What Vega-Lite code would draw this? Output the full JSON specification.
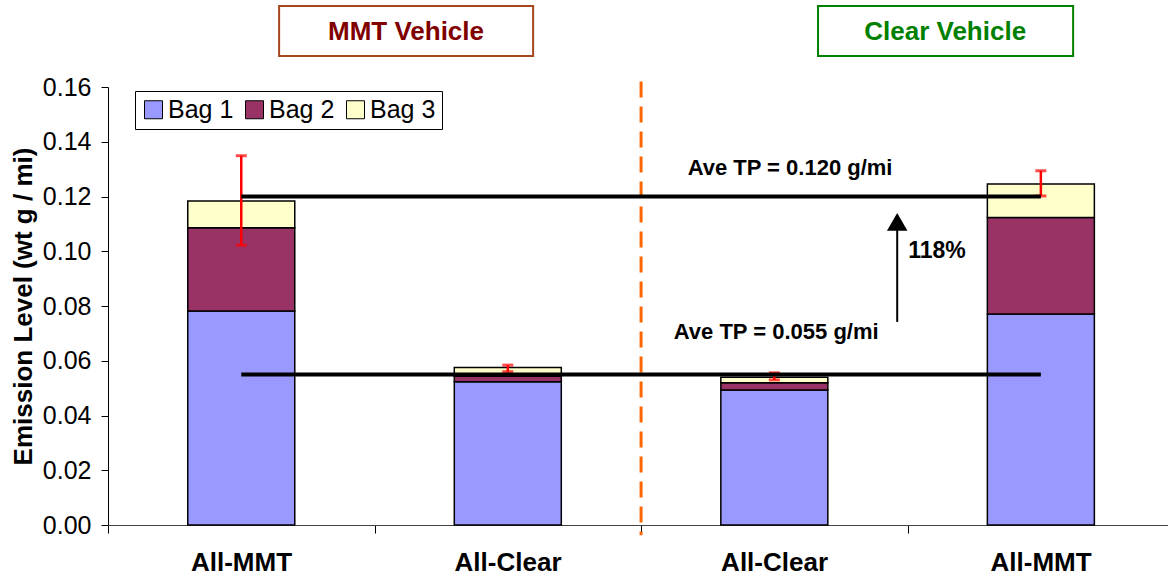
{
  "$schema": "https://vega.github.io/schema/vega-lite/v6.json",
  "width": 1060,
  "height": 438,
  "autosize": {"type": "none"},
  "padding": {"left": 108, "top": 87, "right": 0, "bottom": 52},
  "config": {"font": "Liberation Sans", "view": {"stroke": null}, "axis": {"grid": false}},
  "datasets": {
    "bars": [
      {"x": 0.5, "bag": "Bag 1", "y": 0, "y2": 0.0782},
      {"x": 0.5, "bag": "Bag 2", "y": 0.0782, "y2": 0.1086},
      {"x": 0.5, "bag": "Bag 3", "y": 0.1086, "y2": 0.1184},
      {"x": 1.5, "bag": "Bag 1", "y": 0, "y2": 0.0523},
      {"x": 1.5, "bag": "Bag 2", "y": 0.0523, "y2": 0.0543},
      {"x": 1.5, "bag": "Bag 3", "y": 0.0543, "y2": 0.0575},
      {"x": 2.5, "bag": "Bag 1", "y": 0, "y2": 0.0493},
      {"x": 2.5, "bag": "Bag 2", "y": 0.0493, "y2": 0.0520},
      {"x": 2.5, "bag": "Bag 3", "y": 0.0520, "y2": 0.0540},
      {"x": 3.5, "bag": "Bag 1", "y": 0, "y2": 0.0771},
      {"x": 3.5, "bag": "Bag 2", "y": 0.0771, "y2": 0.1123},
      {"x": 3.5, "bag": "Bag 3", "y": 0.1123, "y2": 0.1246}
    ],
    "errs": [
      {"x": 0.5, "y": 0.1022, "y2": 0.1349},
      {"x": 1.5, "y": 0.0560, "y2": 0.0584},
      {"x": 2.5, "y": 0.0530, "y2": 0.0556},
      {"x": 3.5, "y": 0.1202, "y2": 0.1294}
    ],
    "avg": [
      {"x": 0.5, "x2": 3.5, "y": 0.120},
      {"x": 0.5, "x2": 3.5, "y": 0.055}
    ],
    "divider": [{"x": 2, "y": 0.162, "y2": -0.0037}],
    "shaft": [{"x": 2.961, "y": 0.0742, "y2": 0.1085}],
    "head": [{"x": 2.961, "y": 0.1107}],
    "notes": [
      {"x": 2.559, "y": 0.1304, "text": "Ave TP = 0.120 g/mi"},
      {"x": 2.507, "y": 0.0705, "text": "Ave TP = 0.055 g/mi"}
    ],
    "pct": [{"x": 3.002, "y": 0.1001, "text": "118%"}],
    "mmtBox": [{"x": 0.642, "x2": 1.595, "y": 0.1713, "y2": 0.1896}],
    "clearBox": [{"x": 2.664, "x2": 3.621, "y": 0.1713, "y2": 0.1896}],
    "mmtText": [{"x": 1.118, "y": 0.1801, "text": "MMT Vehicle"}],
    "clearText": [{"x": 3.141, "y": 0.1801, "text": "Clear Vehicle"}]
  },
  "layer": [
    {
      "data": {"name": "bars"},
      "mark": {"type": "bar", "width": 107, "stroke": "black", "strokeWidth": 1.5},
      "encoding": {
        "x": {
          "field": "x", "type": "quantitative",
          "scale": {"domain": [0, 3.977], "nice": false, "zero": false, "padding": 0},
          "axis": {
            "title": null, "values": [0, 1, 2, 3],
            "labelExpr": "datum.value == 0 ? 'All-MMT' : datum.value == 1 ? 'All-Clear' : datum.value == 2 ? 'All-Clear' : 'All-MMT'",
            "labelOffset": 133, "labelFontSize": 26, "labelFontWeight": "bold", "labelColor": "black",
            "labelPadding": 16, "tickSize": 8, "tickColor": "black", "domainColor": "#444",
            "labelOverlap": false, "labelFlush": false, "labelBound": false
          }
        },
        "y": {
          "field": "y", "type": "quantitative",
          "scale": {"domain": [0, 0.16], "nice": false, "padding": 0},
          "axis": {
            "title": "Emission Level (wt g / mi)",
            "values": [0, 0.02, 0.04, 0.06, 0.08, 0.1, 0.12, 0.14, 0.16],
            "format": ".2f", "labelFontSize": 25, "labelColor": "black",
            "tickSize": 7, "tickColor": "black", "domainColor": "black", "labelPadding": 10,
            "titleFontSize": 26, "titleFontWeight": "bold", "titleColor": "black", "titlePadding": 6
          }
        },
        "y2": {"field": "y2"},
        "color": {
          "field": "bag", "type": "nominal",
          "scale": {"domain": ["Bag 1", "Bag 2", "Bag 3"], "range": ["#9999FF", "#993366", "#FFFFCC"]},
          "legend": {
            "title": null, "orient": "none", "legendX": 27, "legendY": 4, "direction": "horizontal",
            "fillColor": "white", "strokeColor": "black", "padding": 6,
            "symbolType": "square", "symbolSize": 324, "symbolStrokeColor": "black", "symbolStrokeWidth": 1,
            "symbolOpacity": 1, "labelFontSize": 25, "labelColor": "black", "columnPadding": 8, "labelOffset": 2
          }
        }
      }
    },
    {
      "data": {"name": "errs"},
      "mark": {"type": "rule", "color": "red", "strokeWidth": 2.5},
      "encoding": {"x": {"field": "x", "type": "quantitative"}, "y": {"field": "y", "type": "quantitative"}, "y2": {"field": "y2"}}
    },
    {
      "data": {"name": "errs"},
      "mark": {"type": "tick", "orient": "horizontal", "color": "red", "size": 11, "thickness": 3},
      "encoding": {"x": {"field": "x", "type": "quantitative"}, "y": {"field": "y", "type": "quantitative"}}
    },
    {
      "data": {"name": "errs"},
      "mark": {"type": "tick", "orient": "horizontal", "color": "red", "size": 11, "thickness": 3},
      "encoding": {"x": {"field": "x", "type": "quantitative"}, "y": {"field": "y2", "type": "quantitative"}}
    },
    {
      "data": {"name": "divider"},
      "mark": {"type": "rule", "color": "#FF6600", "strokeWidth": 3, "strokeDash": [16, 9]},
      "encoding": {"x": {"field": "x", "type": "quantitative"}, "y": {"field": "y", "type": "quantitative"}, "y2": {"field": "y2"}}
    },
    {
      "data": {"name": "avg"},
      "mark": {"type": "rule", "color": "black", "strokeWidth": 4},
      "encoding": {"x": {"field": "x", "type": "quantitative"}, "x2": {"field": "x2"}, "y": {"field": "y", "type": "quantitative"}}
    },
    {
      "data": {"name": "shaft"},
      "mark": {"type": "rule", "color": "black", "strokeWidth": 2},
      "encoding": {"x": {"field": "x", "type": "quantitative"}, "y": {"field": "y", "type": "quantitative"}, "y2": {"field": "y2"}}
    },
    {
      "data": {"name": "head"},
      "mark": {"type": "point", "shape": "triangle-up", "filled": true, "color": "black", "opacity": 1, "size": 420},
      "encoding": {"x": {"field": "x", "type": "quantitative"}, "y": {"field": "y", "type": "quantitative"}}
    },
    {
      "data": {"name": "notes"},
      "mark": {"type": "text", "fontSize": 22, "fontWeight": "bold", "color": "black", "align": "center", "baseline": "middle"},
      "encoding": {"x": {"field": "x", "type": "quantitative"}, "y": {"field": "y", "type": "quantitative"}, "text": {"field": "text"}}
    },
    {
      "data": {"name": "pct"},
      "mark": {"type": "text", "fontSize": 23, "fontWeight": "bold", "color": "black", "align": "left", "baseline": "middle"},
      "encoding": {"x": {"field": "x", "type": "quantitative"}, "y": {"field": "y", "type": "quantitative"}, "text": {"field": "text"}}
    },
    {
      "data": {"name": "mmtBox"},
      "mark": {"type": "rect", "fill": "white", "stroke": "#A5461C", "strokeWidth": 2},
      "encoding": {"x": {"field": "x", "type": "quantitative"}, "x2": {"field": "x2"}, "y": {"field": "y", "type": "quantitative"}, "y2": {"field": "y2"}}
    },
    {
      "data": {"name": "clearBox"},
      "mark": {"type": "rect", "fill": "white", "stroke": "#008000", "strokeWidth": 2},
      "encoding": {"x": {"field": "x", "type": "quantitative"}, "x2": {"field": "x2"}, "y": {"field": "y", "type": "quantitative"}, "y2": {"field": "y2"}}
    },
    {
      "data": {"name": "mmtText"},
      "mark": {"type": "text", "fontSize": 26, "fontWeight": "bold", "color": "#800000", "align": "center", "baseline": "middle"},
      "encoding": {"x": {"field": "x", "type": "quantitative"}, "y": {"field": "y", "type": "quantitative"}, "text": {"field": "text"}}
    },
    {
      "data": {"name": "clearText"},
      "mark": {"type": "text", "fontSize": 26, "fontWeight": "bold", "color": "#008000", "align": "center", "baseline": "middle"},
      "encoding": {"x": {"field": "x", "type": "quantitative"}, "y": {"field": "y", "type": "quantitative"}, "text": {"field": "text"}}
    }
  ]
}
